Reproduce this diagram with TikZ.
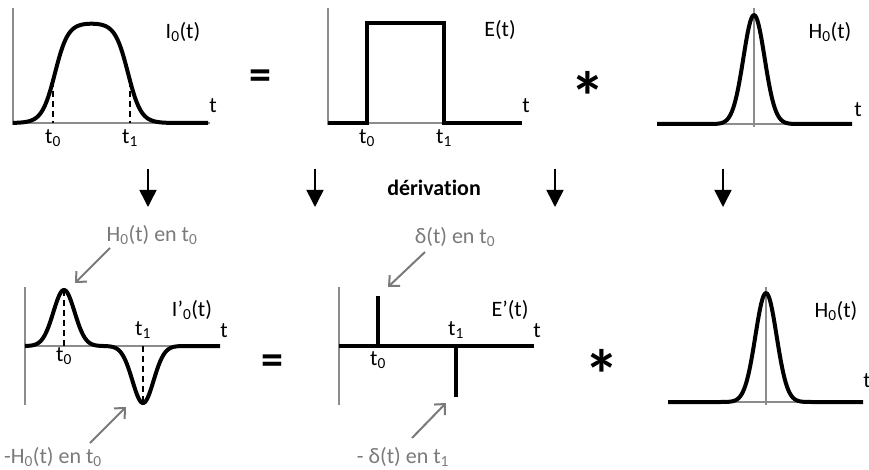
\documentclass[tikz,border=0pt]{standalone}
\usepackage{fontspec}
\setmainfont[Ligatures=NoCommon]{Carlito}
\usetikzlibrary{arrows.meta}
\definecolor{axGray}{HTML}{8C8C8C}
\definecolor{annGray}{HTML}{7A7A7A}
\newcommand\subs[1]{\textsubscript{#1}}
\begin{document}
\begin{tikzpicture}[x=1pt,y=-1pt,
  declare function={gs(\u)=exp(-min(\u*\u,20)); st(\u)=tanh(max(min(\u,4),-4));},
  lbl/.style={font=\fontsize{22}{26}\selectfont, inner sep=0pt},
  ann/.style={lbl, text=annGray},
  bigeq/.style={font=\fontsize{44}{48}\selectfont\bfseries, inner sep=0pt},
  bigstar/.style={font=\fontsize{70}{74}\selectfont\bfseries, inner sep=0pt},
  axis/.style={draw=axGray, line width=2pt},
  sig/.style={line width=4pt, line join=round},
  dsh/.style={line width=2pt, dash pattern=on 6pt off 4pt},
  down/.style={-{Triangle[width=17pt,length=17pt]}, line width=1.5pt},
  point/.style={-{Straight Barb[length=8pt,width=15pt]}, draw=annGray, line width=2pt}]
\useasboundingbox (0,0) rectangle (869,470);

% ---------- top row ----------
% I0(t)
\draw[axis] (13,8) -- (13,125);
\draw[axis] (13,123) -- (210,123);
\draw[dsh] (53,80.6) -- (53,123);
\draw[dsh] (130,80.6) -- (130,123);
\draw[sig] plot[domain=13:208, samples=160] (\x, {123-50*(st((\x-55)/13)-st((\x-128)/13))});
\node[lbl] (I0) at (183,32) {I\subs{0}(t)};
\node[lbl] (I0t) at (213,106) {t};
\node[lbl] (I0a) at (53,138) {t\subs{0}};
\node[lbl] (I0b) at (130,138) {t\subs{1}};
\node[bigeq] (eq1) at (260,80) {=};

% E(t)
\draw[axis] (328,8) -- (328,125);
\draw[axis] (328,123) -- (522,123);
\draw[sig, line join=miter] (328,123) -- (367,123) -- (367,23) -- (444,23) -- (444,123) -- (522,123);
\node[lbl] (E) at (500,30) {E(t)};
\node[lbl] (Et) at (526,106) {t};
\node[lbl] (Ea) at (367,138) {t\subs{0}};
\node[lbl] (Eb) at (444,138) {t\subs{1}};
\node[bigstar] (st1) at (588,96) {*};

% H0(t)
\draw[axis] (754,8) -- (754,127);
\draw[axis] (657,124) -- (852,124);
\draw[sig] plot[domain=657:852, samples=160] (\x, {124-109*gs((\x-754)/15)});
\node[lbl] (H0) at (830,32) {H\subs{0}(t)};
\node[lbl] (H0t) at (858,110) {t};

% ---------- derivation arrows ----------
\coordinate (d1a) at (148,169); \coordinate (d1b) at (148,207);
\coordinate (d2a) at (315,169); \coordinate (d2b) at (315,207);
\coordinate (d3a) at (555,169); \coordinate (d3b) at (555,207);
\coordinate (d4a) at (723,169); \coordinate (d4b) at (723,207);
\draw[down] (d1a) -- (d1b);
\draw[down] (d2a) -- (d2b);
\draw[down] (d3a) -- (d3b);
\draw[down] (d4a) -- (d4b);
\node[lbl, font=\fontsize{22}{26}\selectfont\bfseries] (der) at (434,188) {dérivation};

% ---------- bottom row ----------
% I'0(t)
\draw[axis] (25,287) -- (25,405);
\draw[axis] (25,346) -- (220,346);
\draw[dsh] (64,290) -- (64,346);
\draw[dsh] (143,346) -- (143,403);
\draw[sig] plot[domain=25:220, samples=200] (\x, {346-56*gs((\x-64)/15)+57*gs((\x-143)/15)});
\node[lbl] (Ip) at (192,310) {I’\subs{0}(t)};
\node[lbl] (Ipt) at (224,331) {t};
\node[lbl] (Ipb) at (143,330) {t\subs{1}};
\node[lbl] (Ipa) at (64,356) {t\subs{0}};
\node[bigeq] (eq2) at (272,365) {=};
\node[ann] (aH) at (152,235) {H\subs{0}(t) en t\subs{0}};
\coordinate (aHs) at (110,248); \coordinate (aHe) at (75,283);
\draw[point] (aHs) -- (aHe);
\node[ann] (amH) at (53,457) {-H\subs{0}(t) en t\subs{0}};
\coordinate (amHs) at (90,443); \coordinate (amHe) at (126,407);
\draw[point] (amHs) -- (amHe);

% E'(t)
\draw[axis] (339,287) -- (339,405);
\draw[sig, line cap=butt] (339,346) -- (534,346);
\draw[sig] (378,346) -- (378,296);
\draw[sig] (456,346) -- (456,397);
\node[lbl] (Ep) at (510,310) {E’(t)};
\node[lbl] (Ept) at (537,331) {t};
\node[lbl] (Epb) at (456,330) {t\subs{1}};
\node[lbl] (Epa) at (378,360) {t\subs{0}};
\node[bigstar] (st2) at (602,374) {*};
\node[ann] (ad) at (455,237) {δ(t) en t\subs{0}};
\coordinate (ads) at (425,252); \coordinate (ade) at (388,287);
\draw[point] (ads) -- (ade);
\node[ann] (amd) at (403,457) {- δ(t) en t\subs{1}};
\coordinate (amds) at (412,438); \coordinate (amde) at (446,403);
\draw[point] (amds) -- (amde);

% H0(t) bottom
\draw[axis] (766,287) -- (766,405);
\draw[axis] (668,402) -- (863,402);
\draw[sig] plot[domain=668:863, samples=160] (\x, {402-109*gs((\x-766)/15)});
\node[lbl] (H0b) at (836,311) {H\subs{0}(t)};
\node[lbl] (H0bt) at (867,381) {t};
\end{tikzpicture}
\end{document}
